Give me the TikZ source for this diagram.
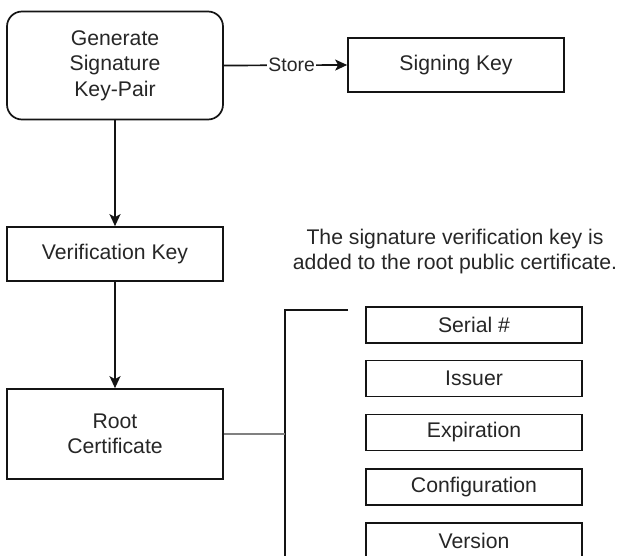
\documentclass[tikz,border=0pt]{standalone}
\usepackage{fontspec}
\setmainfont{Liberation Sans}
\usetikzlibrary{arrows.meta}
\definecolor{txt}{RGB}{38,38,38}
\definecolor{ln}{RGB}{20,20,20}
\definecolor{gln}{RGB}{128,128,128}
\tikzset{
  every node/.style={text=txt, font=\fontsize{21.2}{25.4}\selectfont},
  box/.style={draw=ln, line width=1.7pt, minimum width=216pt, fill=white, inner sep=0pt, align=center},
  rbox/.style={box, rounded corners=15pt},
  fieldbox/.style={box, minimum height=36pt},
  arr/.style={draw=ln, line width=1.7pt, -{Stealth[length=12pt,width=11pt,inset=3pt]}},
  plain/.style={draw=ln, line width=1.7pt},
  lbl/.style={fill=white, inner sep=1pt, font=\fontsize{19.4}{23}\selectfont},
}
\begin{document}
\begin{tikzpicture}[x=1pt,y=-1pt]
\useasboundingbox (0,0) rectangle (622,556);
\clip (0,0) rectangle (622,556);
\node[rbox, minimum height=108pt] (gen) at (115,65.5) {Generate\\Signature\\Key-Pair};
\node[box, minimum height=54pt] (sign) at (456,65) {Signing Key};
\node[box, minimum height=54pt] (ver) at (115,254) {Verification Key};
\node[box, minimum height=90pt] (root) at (115,434) {Root\\Certificate};
\node[align=center, inner sep=0pt] (note) at (455,251.5) {The signature verification key is\\added to the root public certificate.};
\node[fieldbox] (serial) at (474,325) {Serial \#};
\node[fieldbox] (issuer) at (474,378.5) {Issuer};
\node[fieldbox] (exp) at (474,432.5) {Expiration};
\node[fieldbox] (conf) at (474,487) {Configuration};
\node[fieldbox] (vers) at (474,541) {Version};
\coordinate (brtop) at (348,310);
\coordinate (brcorner) at (285,310);
\coordinate (brbottom) at (285,570);
\draw[arr] (gen.east) -- node[lbl, pos=0.55] (store) {Store} (sign.west);
\draw[arr] (gen.south) -- (ver.north);
\draw[arr] (ver.south) -- (root.north);
\draw[plain] (brtop) -- (brcorner) -- (brbottom);
\draw[draw=gln, line width=2pt] (root.east) -- (root.east -| brcorner);
\end{tikzpicture}
\end{document}
